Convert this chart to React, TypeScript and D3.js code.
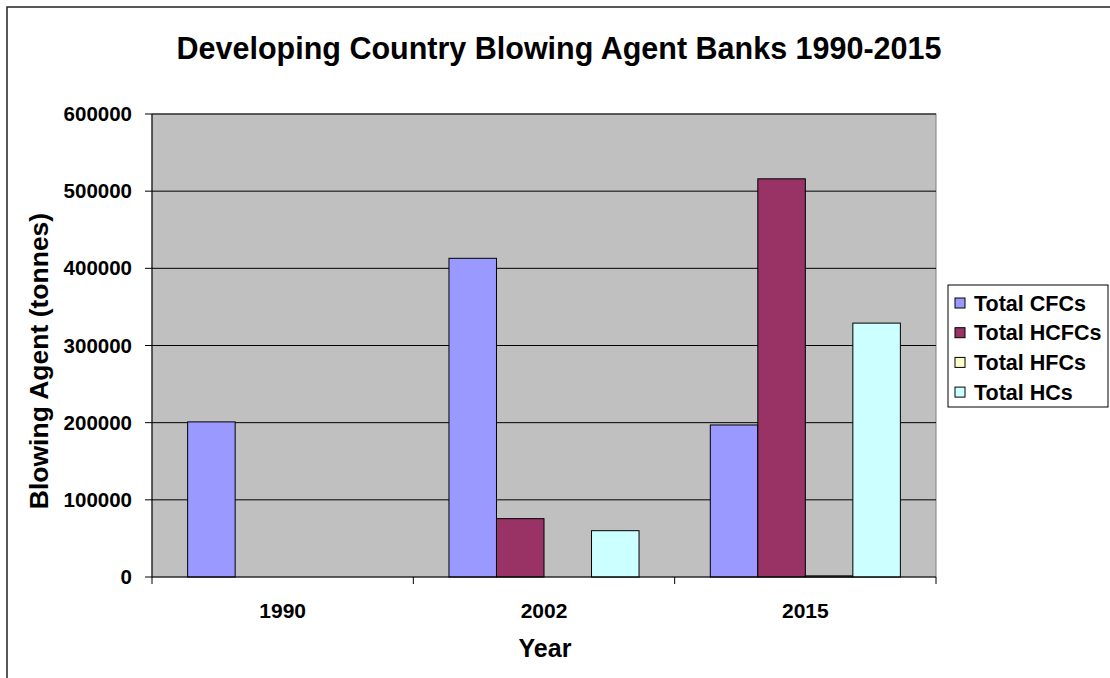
import React from "react";
import * as d3 from "d3";

const years = ["1990", "2002", "2015"];
const seriesNames = ["Total CFCs", "Total HCFCs", "Total HFCs", "Total HCs"];
const seriesColors = ["#9999FF", "#993366", "#FFFFCC", "#CCFFFF"];
const cfcs = [201000, 413000, 197000];
const hcfcs = [0, 75600, 516000];
const hfcs = [0, 0, 1500];
const hcs = [0, 60000, 329000];
const yTicks = [0, 100000, 200000, 300000, 400000, 500000, 600000];

const W = 1110;
const H = 678;
const plot = { left: 152, right: 936, top: 114, bottom: 577 };

export default function App() {
  const values = [cfcs, hcfcs, hfcs, hcs];
  const x0 = d3.scaleBand<string>().domain(years).range([plot.left, plot.right]).padding(0);
  const x1 = d3
    .scaleBand<string>()
    .domain(seriesNames)
    .range([0, x0.bandwidth()])
    .paddingInner(0)
    .paddingOuter(0.75);
  const y = d3.scaleLinear().domain([0, 600000]).range([plot.bottom, plot.top]);
  const font = "'Liberation Sans', Arial, sans-serif";

  return (
    <svg
      width={W}
      height={H}
      style={{ position: "absolute", left: 0, top: 0, background: "#fff" }}
      fontFamily={font}
      fontWeight="bold"
    >
      <rect x={7} y={7} width={W + 10} height={H + 10} fill="#fff" stroke="#222" strokeWidth={1.5} />
      <text x={559} y={59} textAnchor="middle" fontSize={30.5}>
        Developing Country Blowing Agent Banks 1990-2015
      </text>
      <rect
        x={plot.left}
        y={plot.top}
        width={plot.right - plot.left}
        height={plot.bottom - plot.top}
        fill="#C0C0C0"
        stroke="#808080"
        strokeWidth={1}
      />
      {yTicks.slice(1).map((t) => (
        <line key={t} x1={plot.left} x2={plot.right} y1={y(t)} y2={y(t)} stroke="#000" strokeWidth={1} />
      ))}
      {seriesNames.map((s, si) =>
        years.map((yr, yi) => {
          const v = values[si][yi];
          if (v <= 0) return null;
          return (
            <rect
              key={s + yr}
              x={(x0(yr) as number) + (x1(s) as number)}
              y={y(v)}
              width={x1.bandwidth()}
              height={y(0) - y(v)}
              fill={seriesColors[si]}
              stroke="#000"
              strokeWidth={1}
            />
          );
        })
      )}
      <line x1={plot.left} x2={plot.left} y1={plot.top} y2={plot.bottom} stroke="#000" strokeWidth={1} />
      <line x1={plot.left} x2={plot.right} y1={plot.bottom} y2={plot.bottom} stroke="#000" strokeWidth={1} />
      {yTicks.map((t) => (
        <g key={"yt" + t}>
          <line x1={plot.left - 7} x2={plot.left} y1={y(t)} y2={y(t)} stroke="#000" />
          <text x={132} y={y(t) + 7} textAnchor="end" fontSize={20.5}>
            {t}
          </text>
        </g>
      ))}
      {years.map((yr) => (
        <g key={"xt" + yr}>
          <line x1={x0(yr) as number} x2={x0(yr) as number} y1={plot.bottom} y2={plot.bottom + 7} stroke="#000" />
          <text x={(x0(yr) as number) + x0.bandwidth() / 2} y={618} textAnchor="middle" fontSize={21}>
            {yr}
          </text>
        </g>
      ))}
      <line x1={plot.right} x2={plot.right} y1={plot.bottom} y2={plot.bottom + 7} stroke="#000" />
      <text x={545} y={657} textAnchor="middle" fontSize={25}>
        Year
      </text>
      <text transform={`translate(48,361) rotate(-90)`} textAnchor="middle" fontSize={26.5}>
        Blowing Agent (tonnes)
      </text>
      <rect x={948} y={285} width={160} height={122} fill="#fff" stroke="#000" strokeWidth={1} />
      {seriesNames.map((s, i) => (
        <g key={"lg" + s} transform={`translate(955,${303 + i * 29.7})`}>
          <rect x={0} y={-5} width={10} height={10} fill={seriesColors[i]} stroke="#000" strokeWidth={1} />
          <text x={19} y={7.5} fontSize={21.5}>
            {s}
          </text>
        </g>
      ))}
    </svg>
  );
}
